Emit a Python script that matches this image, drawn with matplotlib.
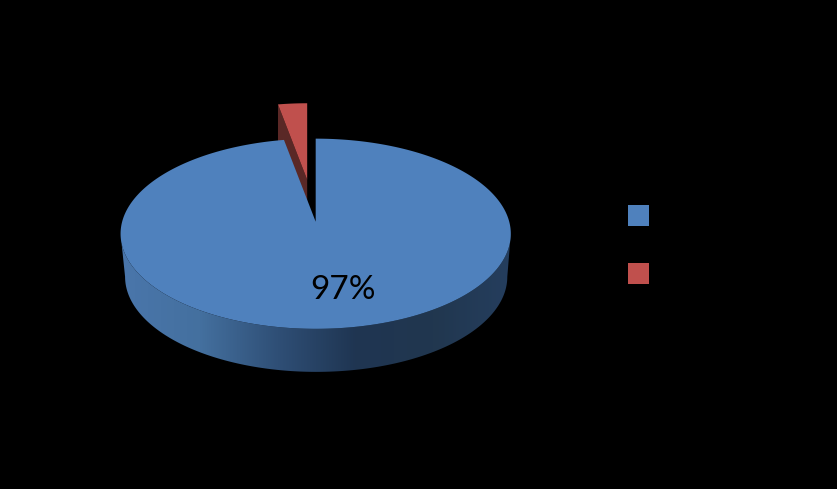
import numpy as np
import matplotlib
matplotlib.use("Agg")
import matplotlib.pyplot as plt
from matplotlib.patches import Polygon, Rectangle
from matplotlib.colors import LinearSegmentedColormap

values = [97.4, 2.6]
colors = ["#4F81BD", "#C0504D"]
side_red = "#5A2826"

W, H = 837, 489
fig = plt.figure(figsize=((W + 0.5) / 100, (H + 0.5) / 100), dpi=100, facecolor="black")
ax = fig.add_axes([0, 0, 1, 1])
ax.set_xlim(0, W)
ax.set_ylim(H, 0)
ax.axis("off")

CX, CY, RX, RY = 315.5, 234, 195, 95
APEX = np.array([315.5, 222])
LOW = (316, 277, 191, 95)


def rim(a0, a1, cx=CX, cy=CY, rx=RX, ry=RY, n=200):
    # angles in degrees, clockwise from 12 o'clock
    t = np.radians(np.linspace(a0, a1, n))
    return np.column_stack([cx + rx * np.sin(t), cy - ry * np.cos(t)])


frac = np.array(values, dtype=float) / sum(values)
blue_end = 360 * frac[0]

# side band with horizontal gradient
upper = rim(90, 270)
lower = rim(270, 90, *LOW)
band = Polygon(np.vstack([upper, lower]), closed=True, fc="none", ec="none")
ax.add_patch(band)
cmap = LinearSegmentedColormap.from_list(
    "side", ["#4A76AB", "#44709F", "#2F4F76", "#1F3552", "#21374F", "#253E5E"]
)
im = ax.imshow(np.linspace(0, 1, 256)[None, :], extent=(121, 511, 375, 234),
               cmap=cmap, aspect="auto", zorder=1)
im.set_clip_path(band)
ax.set_xlim(0, W)
ax.set_ylim(H, 0)

# exploded slice: same wedge as the notch, moved up and slightly smaller
notch = rim(blue_end, 360, n=30)
shift_apex = np.array([307, 180])
red_rim = shift_apex + (notch - APEX) * 0.92
red_top = np.vstack([shift_apex, red_rim])
left_pt = red_rim[0]
ax.add_patch(Polygon([left_pt, shift_apex, shift_apex + [0, 44], left_pt + [0, 44]],
                     closed=True, fc=side_red, ec="none", zorder=2))
ax.add_patch(Polygon(red_top, closed=True, fc=colors[1], ec="none", zorder=3))

# main slice top surface
blue_top = np.vstack([APEX, rim(0, blue_end, n=500)])
ax.add_patch(Polygon(blue_top, closed=True, fc=colors[0], ec="none", zorder=4))

ax.text(343, 290, f"{values[0]:.0f}%", color="black", fontsize=24, family="Lato",
        ha="center", va="center", zorder=5)

# legend swatches
for y, c in zip([205, 263], colors):
    ax.add_patch(Rectangle((628, y), 21, 21, fc=c, ec="none", zorder=5))

fig.savefig("out.png", dpi=100, facecolor="black")
